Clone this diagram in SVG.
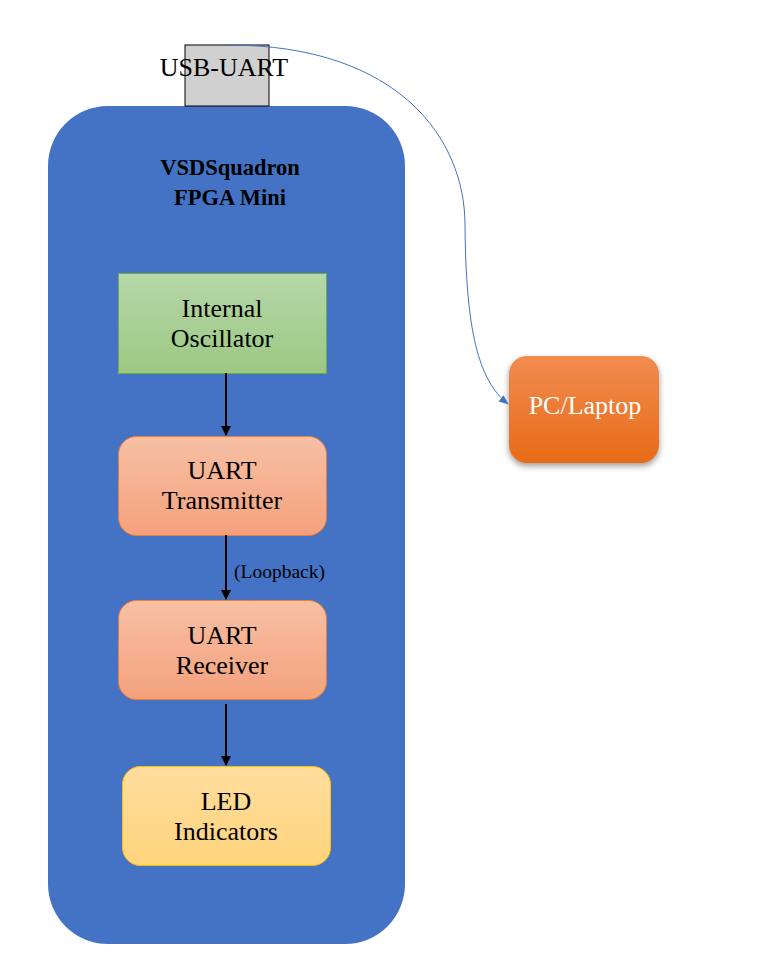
<svg xmlns="http://www.w3.org/2000/svg" width="771" height="975" viewBox="0 0 771 975">
<style>
.t{font-family:"Liberation Serif","Times New Roman",serif;fill:#000;text-anchor:middle}
.n{font-size:26px}
.b{font-size:22.5px;font-weight:bold}
.s{font-size:19.5px;text-anchor:start}
.w{fill:#fff}
.a{stroke:#000;stroke-width:2;fill:none;marker-end:url(#ah)}
</style>
<defs>
<marker id="ah" markerWidth="10" markerHeight="10" refX="9" refY="5" orient="auto" markerUnits="userSpaceOnUse"><path d="M0,0 L10,5 L0,10 z" fill="#000"/></marker>
<marker id="ab" markerWidth="10" markerHeight="10" refX="9" refY="5" orient="auto" markerUnits="userSpaceOnUse"><path d="M0,1 L10,5 L0,9 z" fill="#4472c4"/></marker>
<linearGradient id="gG" x1="0" y1="0" x2="0" y2="1"><stop offset="0" stop-color="#b6d7a8"/><stop offset="1" stop-color="#9cc883"/></linearGradient>
<linearGradient id="gO" x1="0" y1="0" x2="0" y2="1"><stop offset="0" stop-color="#f7c0a5"/><stop offset="1" stop-color="#f4a17c"/></linearGradient>
<linearGradient id="gY" x1="0" y1="0" x2="0" y2="1"><stop offset="0" stop-color="#ffdd9e"/><stop offset="1" stop-color="#ffd47c"/></linearGradient>
<linearGradient id="gP" x1="0" y1="0" x2="0" y2="1"><stop offset="0" stop-color="#f18c50"/><stop offset="1" stop-color="#e76b17"/></linearGradient>
<filter id="sh" x="-20%" y="-20%" width="140%" height="150%"><feDropShadow dx="0" dy="3" stdDeviation="3" flood-color="#000" flood-opacity="0.4"/></filter>
</defs>
<g id="board">
<rect x="48" y="106" width="357" height="838" rx="60" ry="60" fill="#4472c4"/>
<text class="t b" x="230" y="175">VSDSquadron</text>
<text class="t b" x="230" y="205">FPGA Mini</text>
</g>
<g id="usb-uart">
<rect x="185" y="45" width="84" height="61" fill="#d0d0d0" stroke="#000" stroke-width="1"/>
<text class="t n" x="224" y="76">USB-UART</text>
</g>
<g id="osc">
<rect x="118.5" y="273.5" width="208" height="100" fill="url(#gG)" stroke="#70ad47" stroke-width="1"/>
<text class="t n" x="222" y="317">Internal</text>
<text class="t n" x="222" y="347">Oscillator</text>
</g>
<g id="tx">
<rect x="118.5" y="436.5" width="208" height="99" rx="18" fill="url(#gO)" stroke="#ed7d31" stroke-width="1"/>
<text class="t n" x="222" y="479">UART</text>
<text class="t n" x="222" y="509">Transmitter</text>
</g>
<g id="rx">
<rect x="118.5" y="600.5" width="208" height="99" rx="18" fill="url(#gO)" stroke="#ed7d31" stroke-width="1"/>
<text class="t n" x="222" y="644">UART</text>
<text class="t n" x="222" y="674">Receiver</text>
</g>
<g id="led">
<rect x="122.5" y="766.5" width="208" height="99" rx="18" fill="url(#gY)" stroke="#ffc000" stroke-width="1"/>
<text class="t n" x="226" y="810">LED</text>
<text class="t n" x="226" y="840">Indicators</text>
</g>
<g id="pc">
<rect x="509" y="356" width="150" height="107" rx="18" fill="url(#gP)" filter="url(#sh)"/>
<text class="t n w" x="585" y="414">PC/Laptop</text>
</g>
<g id="connectors">
<path class="a" d="M226 373 V435"/>
<path class="a" d="M226 535 V599"/>
<text class="t s" x="234" y="578">(Loopback)</text>
<path class="a" d="M226 704 V765"/>
<path d="M228 45 C400 45 465 140 465 225 C466 330 478 380 508 404" fill="none" stroke="#4472c4" stroke-width="1" marker-end="url(#ab)"/>
</g>
</svg>
